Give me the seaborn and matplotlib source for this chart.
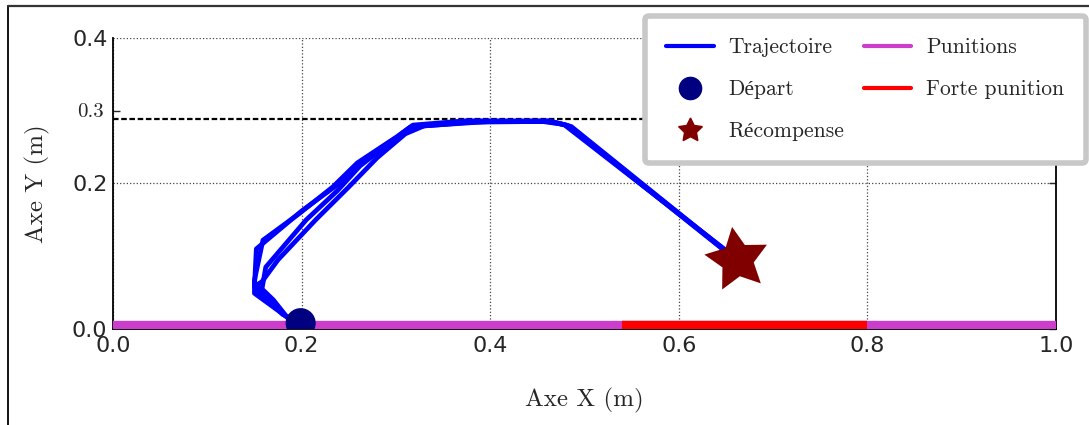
import matplotlib
matplotlib.use("Agg")
import matplotlib.pyplot as plt
from matplotlib.lines import Line2D
import numpy as np
import pandas as pd
import seaborn as sns

# ---- data ----
traj_x_1 = [0.199, 0.185, 0.150, 0.150, 0.159, 0.198, 0.233, 0.259, 0.301, 0.318, 0.375, 0.460, 0.481, 0.649]
traj_y_1 = [0.008, 0.016, 0.049, 0.067, 0.122, 0.159, 0.195, 0.228, 0.264, 0.280, 0.286, 0.285, 0.280, 0.108]
traj_x_2 = [0.199, 0.183, 0.152, 0.158, 0.175, 0.215, 0.250, 0.280, 0.310, 0.330, 0.400, 0.465, 0.486, 0.647]
traj_y_2 = [0.008, 0.018, 0.060, 0.065, 0.095, 0.150, 0.195, 0.235, 0.268, 0.279, 0.285, 0.285, 0.278, 0.110]
traj_x_3 = [0.199, 0.180, 0.160, 0.150, 0.152, 0.200, 0.240, 0.265, 0.295, 0.322, 0.380, 0.455, 0.478, 0.651]
traj_y_3 = [0.008, 0.020, 0.045, 0.058, 0.110, 0.162, 0.200, 0.232, 0.258, 0.278, 0.284, 0.285, 0.281, 0.107]
traj_x_4 = [0.199, 0.186, 0.170, 0.158, 0.162, 0.205, 0.238, 0.262, 0.300, 0.315, 0.370, 0.462, 0.483, 0.650]
traj_y_4 = [0.008, 0.014, 0.040, 0.055, 0.085, 0.150, 0.190, 0.224, 0.262, 0.277, 0.285, 0.286, 0.279, 0.106]

start_xy = [0.199, 0.008]
reward_xy = [0.662, 0.095]
punition_x = [0.0, 1.0]
punition_y = [0.005, 0.005]
forte_x = [0.54, 0.80]
forte_y = [0.005, 0.005]
limit_y = 0.289

xticks = [0.0, 0.2, 0.4, 0.6, 0.8, 1.0]
yticks = [0.0, 0.2, 0.4]
extra_ytick = [0.3]

legend_labels = ["Trajectoire", "Départ", "Récompense", "Punitions", "Forte punition"]

# ---- style ----
sns.set_style("white")
serif = ["cmr10", "Liberation Serif", "DejaVu Serif"]
plt.rcParams["axes.formatter.use_mathtext"] = True

fig = plt.figure(figsize=(10.89, 4.25), dpi=100)
ax = fig.add_axes([113 / 1089, 1 - 329 / 425, (1056 - 113) / 1089, (329 - 37.7) / 425])

# trajectories
frames = []
for i, (xs, ys) in enumerate([(traj_x_1, traj_y_1), (traj_x_2, traj_y_2),
                              (traj_x_3, traj_y_3), (traj_x_4, traj_y_4)]):
    frames.append(pd.DataFrame({"x": xs, "y": ys, "run": i, "step": range(len(xs))}))
df = pd.concat(frames, ignore_index=True)

# punishment lines
sns.lineplot(x=punition_x, y=punition_y, color="#cc3dcc", lw=6, ax=ax, zorder=3,
             solid_capstyle="butt")
sns.lineplot(x=forte_x, y=forte_y, color="#ff0000", lw=6, ax=ax, zorder=3,
             solid_capstyle="butt")

# dashed limit line
ax.axhline(limit_y, color="black", lw=1.6, ls=(0, (2.5, 1.2)), zorder=2)

sns.lineplot(data=df, x="x", y="y", units="run", estimator=None, sort=False,
             color="#0000ff", lw=3.4, ax=ax, zorder=4, legend=False)

sns.scatterplot(x=[start_xy[0]], y=[start_xy[1]], marker="o", s=470, color="#000080",
                edgecolor="none", ax=ax, zorder=6, legend=False)
sns.scatterplot(x=[reward_xy[0]], y=[reward_xy[1]], marker=(5, 1, 9), s=2300,
                color="#800000", edgecolor="none", ax=ax, zorder=6, legend=False)

ax.set_xlim(0, 1)
ax.set_ylim(0, 0.4)
ax.set_xticks(xticks)
ax.set_xticklabels([f"{v:.1f}" for v in xticks])
ax.set_yticks(yticks)
ax.set_yticklabels([f"{v:.1f}" for v in yticks])
ax.set_yticks(extra_ytick, minor=True)
ax.set_yticklabels([f"{v:.1f}" for v in extra_ytick], minor=True,
                   fontfamily=serif, fontsize=15)

ax.tick_params(axis="both", which="major", direction="in", length=5, width=1,
               labelsize=16, right=True, top=False, pad=4)
ax.tick_params(axis="x", which="major", pad=5)
ax.tick_params(axis="y", which="minor", direction="in", length=5, width=1, left=True,
               right=False, pad=7)
for lab in ax.get_xticklabels() + ax.get_yticklabels():
    lab.set_fontfamily("DejaVu Sans")

ax.grid(True, which="major", color="#444444", ls=":", lw=0.9)
ax.set_axisbelow(True)

for side in ["left", "bottom", "right"]:
    ax.spines[side].set_visible(True)
    ax.spines[side].set_color("black")
    ax.spines[side].set_linewidth(1.3)
ax.spines["top"].set_visible(False)

ax.set_xlabel("Axe X (m)", fontfamily=serif, fontsize=18, labelpad=23)
ax.set_ylabel("Axe Y (m)", fontfamily=serif, fontsize=18, labelpad=16)

# legend
handles = [
    Line2D([], [], color="#0000ff", lw=3),
    Line2D([], [], color="#000080", marker="o", ls="none", markersize=16),
    Line2D([], [], color="#800000", marker=(5, 1, 0), ls="none", markersize=18),
    Line2D([], [], color="#cc3dcc", lw=3),
    Line2D([], [], color="#ff0000", lw=3),
]
leg = fig.legend(handles, legend_labels, ncol=2, loc="upper right",
                 bbox_to_anchor=(1086 / 1089, 1 - 16 / 425), borderaxespad=0,
                 prop={"family": serif, "size": 15.5}, frameon=True, fancybox=True,
                 framealpha=1, handlelength=2.2, handletextpad=0.7,
                 columnspacing=0.9, labelspacing=1.05, borderpad=1.0)
leg.get_frame().set_edgecolor("#c8c8c8")
leg.get_frame().set_linewidth(4)
leg.set_zorder(10)

# figure border (partially visible)
fig.add_artist(Line2D([7.5 / 1089, 7.5 / 1089], [0, 1 - 6 / 425], color="black",
                      lw=1.3, transform=fig.transFigure))
fig.add_artist(Line2D([7.5 / 1089, 1], [1 - 6 / 425, 1 - 6 / 425], color="#333333",
                      lw=1.6, transform=fig.transFigure))

fig.savefig("out.png", dpi=100)
